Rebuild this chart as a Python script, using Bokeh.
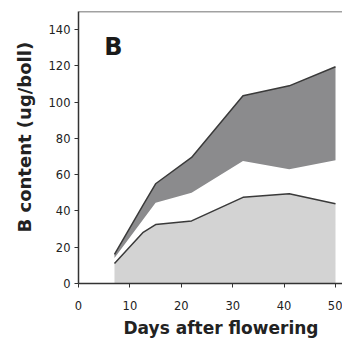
from bokeh.plotting import figure
from bokeh.models import Range1d, FixedTicker, Span, Label, Title
from bokeh.embed import file_html
from bokeh.resources import INLINE

# Data
days = [7, 12.5, 15, 22, 32, 41, 50]
total = [16, 43, 55, 69.5, 103.5, 109, 119.5]
middle = [14, 35, 44.5, 50, 67.5, 63, 68]
bottom = [11, 28, 32.5, 34.5, 47.5, 49.5, 44]
zeros = [0] * len(days)
x_ticks = [0, 10, 20, 30, 40, 50]
y_ticks = [0, 20, 40, 60, 80, 100, 120, 140]

p = figure(width=342, height=341, output_backend="svg", toolbar_location=None,
           x_range=Range1d(0, 51.36), y_range=Range1d(0, 150),
           min_border_left=78, min_border_right=0, min_border_top=11, min_border_bottom=58)
p.outline_line_color = None
p.xgrid.grid_line_color = None
p.ygrid.grid_line_color = None
p.background_fill_color = "white"
p.border_fill_color = "white"

p.varea(x=days, y1=zeros, y2=bottom, fill_color="#d3d3d3")
p.varea(x=days, y1=middle, y2=total, fill_color="#8b8b8d")
p.line(days, total, line_color="#3a3a3a", line_width=1.5)
p.line(days, bottom, line_color="#3a3a3a", line_width=1.5)

for ax, ticks in ((p.xaxis, x_ticks), (p.yaxis, y_ticks)):
    ax.ticker = FixedTicker(ticks=ticks)
    ax.minor_tick_line_color = None
    ax.major_tick_in = 0
    ax.major_tick_out = 4
    ax.axis_line_color = "#333333"
    ax.axis_line_width = 1.5
    ax.major_tick_line_color = "#333333"
    ax.major_label_text_font = "DejaVu Sans"
    ax.major_label_text_font_size = "11.5px"
    ax.major_label_text_color = "#222222"
    ax.major_label_standoff = 4
p.xaxis.major_label_standoff = 13

p.add_layout(Span(location=150, dimension="width", line_color="#444444", line_width=1.5))

p.add_layout(Title(text="B content (ug/boll)", align="left", offset=51, standoff=22,
                   text_font="DejaVu Sans", text_font_style="bold",
                   text_font_size="18px", text_color="#222222"), "left")
p.add_layout(Title(text="Days after flowering", align="left", offset=45, standoff=6,
                   text_font="DejaVu Sans", text_font_style="bold",
                   text_font_size="17px", text_color="#222222"), "below")
p.add_layout(Label(x=5.0, y=130.5, text="B",
                   text_align="left", text_baseline="alphabetic",
                   text_font="DejaVu Sans", text_font_style="bold",
                   text_font_size="24px", text_color="#1a1a1a"))

open("out.html", "w").write(file_html(p, INLINE))
